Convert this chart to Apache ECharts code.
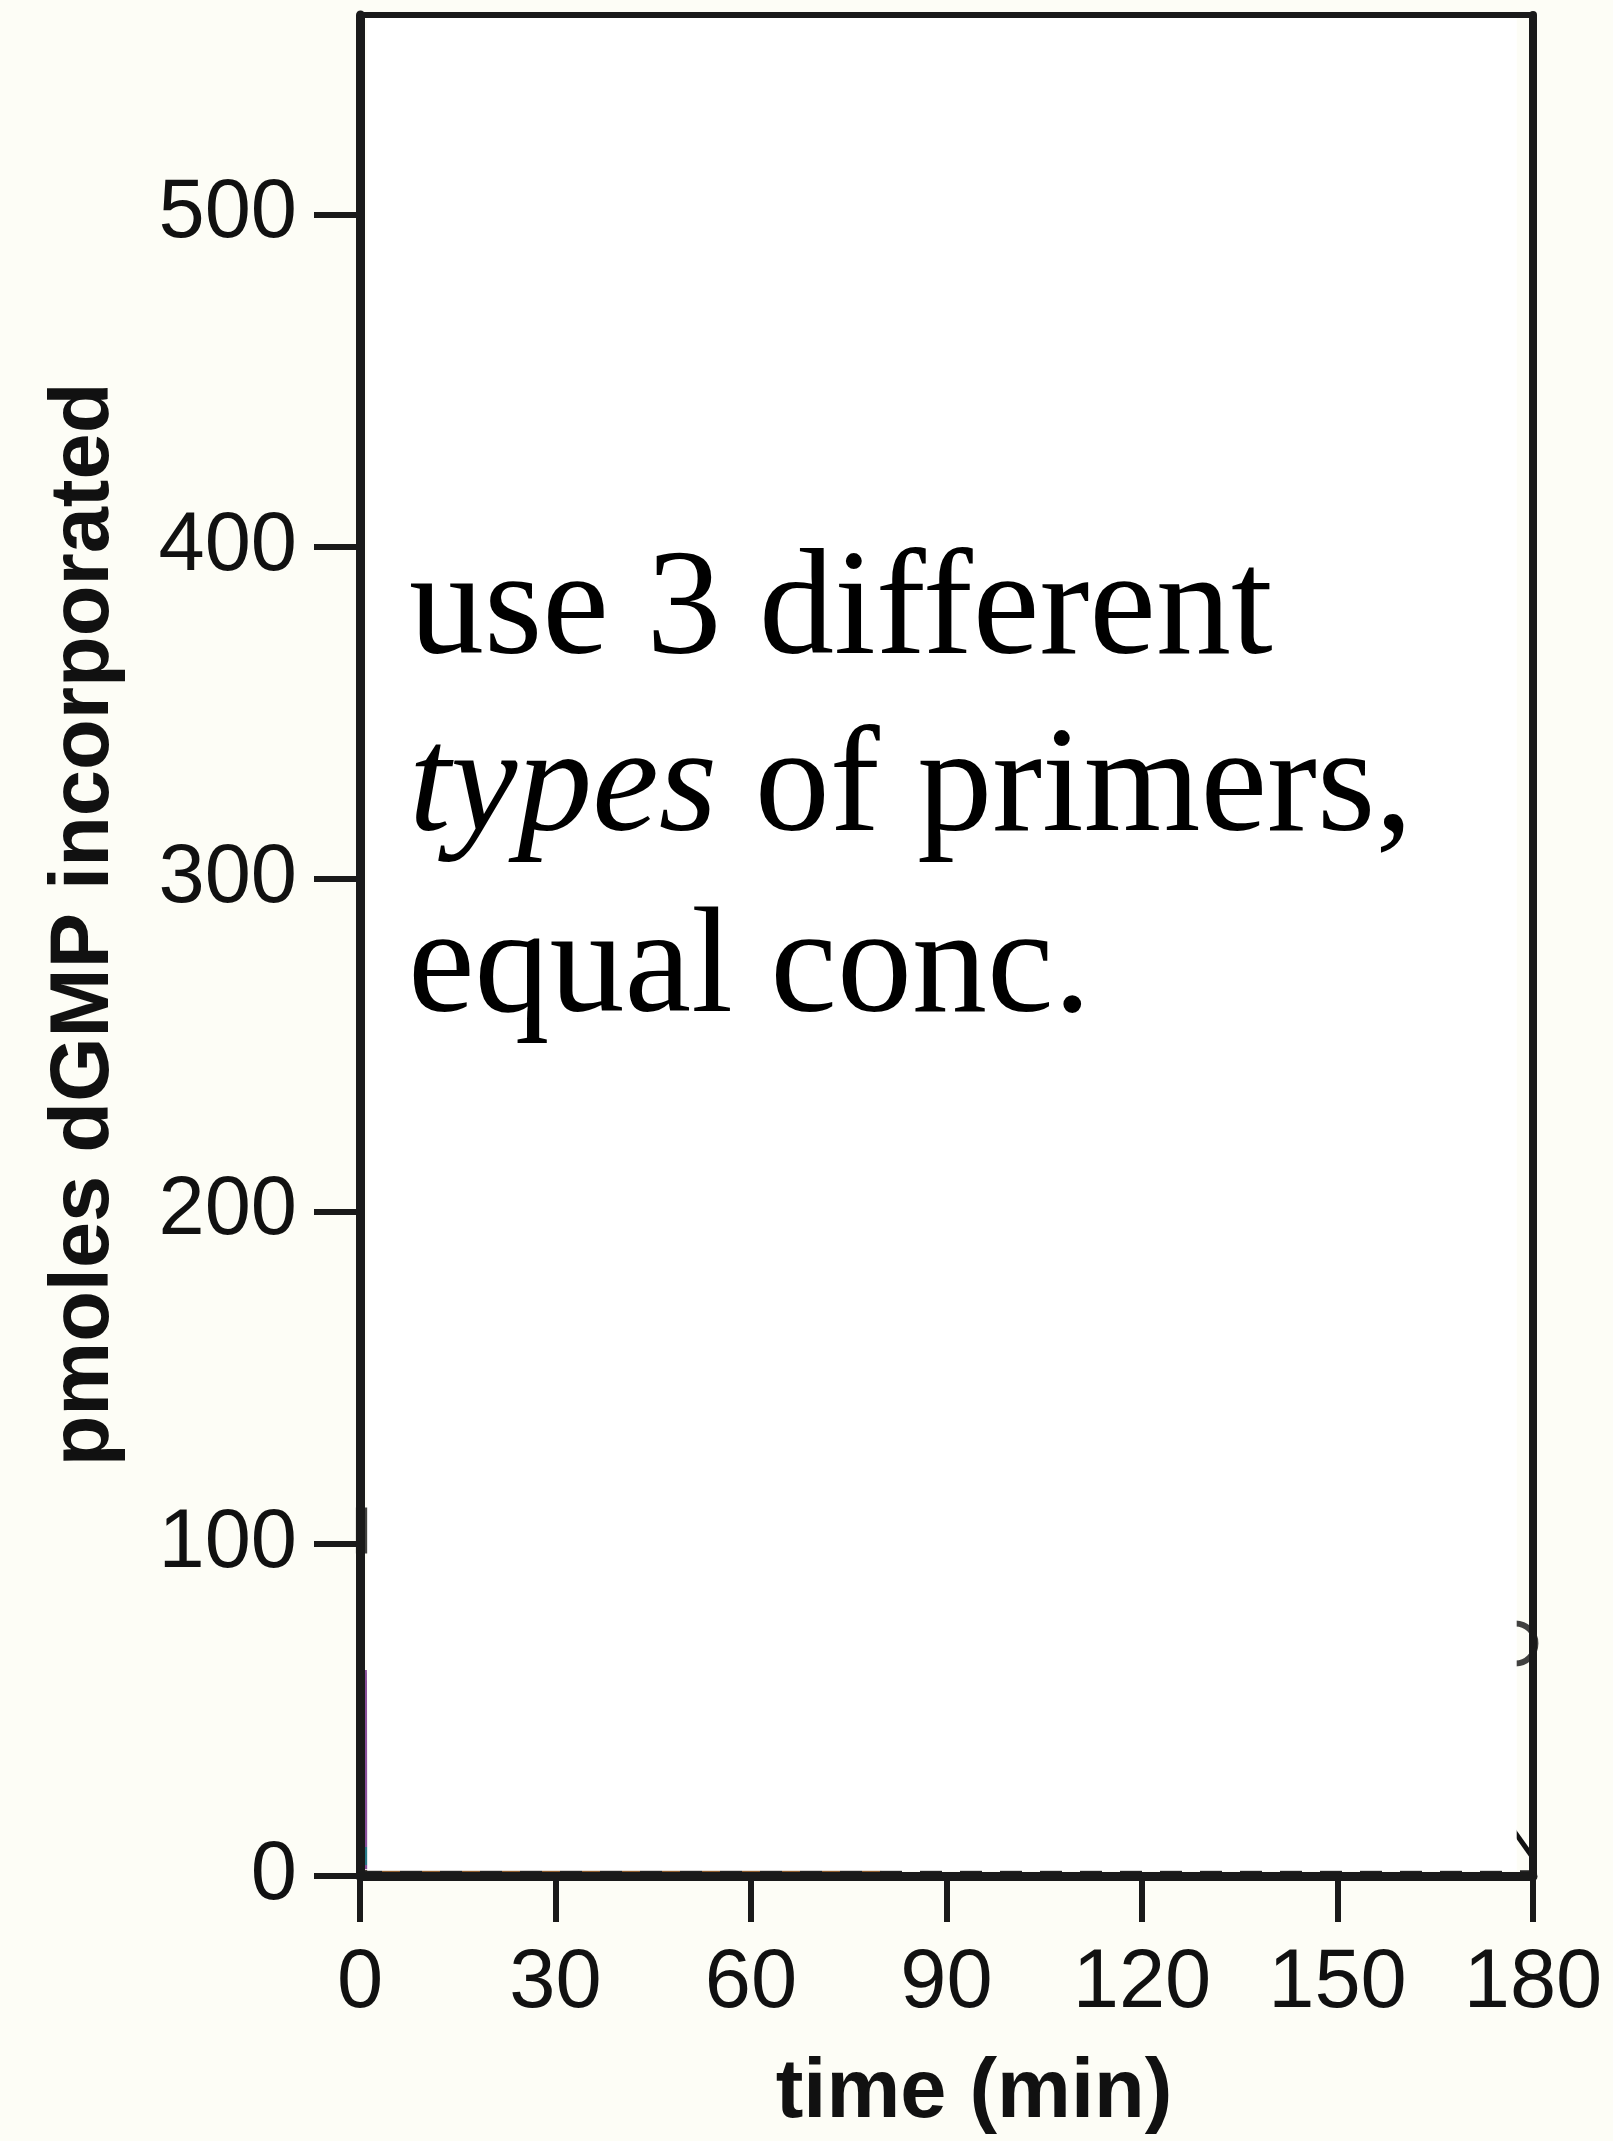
<!DOCTYPE html>
<html>
<head>
<meta charset="utf-8">
<style>
html,body{margin:0;padding:0;background:#fdfdf6;}
#chart{width:1613px;height:2141px;}
</style>
<script src="https://cdn.jsdelivr.net/npm/echarts@6/dist/echarts.min.js"></script>
</head>
<body>
<div id="chart"></div>
<script>
// ---- axis content ----
const xTickValues = [0, 30, 60, 90, 120, 150, 180];
const yTickValues = [0, 100, 200, 300, 400, 500];
const xAxisTitle = 'time (min)';
const yAxisTitle = 'pmoles dGMP incorporated';
// ---- overlay note (covers the plot) ----
const noteLine1 = 'use 3 different';
const noteLine2Italic = 'types';
const noteLine2Rest = ' of primers,';
const noteLine3 = 'equal conc.';
// ---- data remnants that peek out around the white cover ----
const purpleTime = [1.0, 0.75];
const purpleVals = [2, 62];
const tealPoint = [[0.9, 6]];
const blackFilledPoint = [[2.9, 104]];
const openCirclePoint = [[177.3, 70]];
const blackLineTime = [176, 180];
const blackLineVals = [16.5, 5.5];
const brownTime = [0, 80];
const brownVals = [1.3, 1.3];
const dashTime = [0, 180];
const dashVals = [1.3, 1.3];
// cover box in data space [x0, y0, x1, y1]
const coverBox = [[1.1, 1.6, 177.5, 560]];

const pairs = (xs, ys) => xs.map((x, i) => [x, ys[i]]);

const AX = '#1a1a1a';
const chart = echarts.init(document.getElementById('chart'), null, {renderer: 'canvas'});
const tickLabelStyle = {color: '#111', fontSize: 83, fontFamily: 'Liberation Sans, Arial, sans-serif', lineHeight: 83};
const nameStyle = {color: '#111', fontSize: 83, fontWeight: 'bold', fontFamily: 'Liberation Sans, Arial, sans-serif', lineHeight: 83};
const serif = 'Liberation Serif, Times New Roman, serif';

chart.setOption({
  backgroundColor: '#fdfdf6',
  animation: false,
  grid: {left: 360, right: 80, top: 15, bottom: 259, show: false},
  xAxis: [{
    type: 'value', min: 0, max: 180, interval: 30, z: 10,
    axisLine: {show: true, lineStyle: {color: AX, width: 9}},
    axisTick: {show: true, inside: false, length: 46, lineStyle: {color: AX, width: 6}, customValues: xTickValues},
    axisLabel: {margin: 67, ...tickLabelStyle, customValues: xTickValues},
    splitLine: {show: false},
    name: xAxisTitle, nameLocation: 'middle', nameGap: 177,
    nameTextStyle: {...nameStyle, padding: [0, 0, 0, 55]}
  }, {
    type: 'value', position: 'top', min: 0, max: 180, z: 10,
    axisLine: {show: true, onZero: false, lineStyle: {color: AX, width: 6}},
    axisTick: {show: false}, axisLabel: {show: false}, splitLine: {show: false}
  }],
  yAxis: [{
    type: 'value', min: 0, max: 560, interval: 100, z: 10,
    axisLine: {show: true, lineStyle: {color: AX, width: 9}},
    axisTick: {show: true, inside: false, length: 46, lineStyle: {color: AX, width: 6}, customValues: yTickValues},
    axisLabel: {margin: 63, ...tickLabelStyle, customValues: yTickValues},
    splitLine: {show: false},
    name: yAxisTitle, nameLocation: 'middle', nameGap: 233, nameRotate: 90,
    nameTextStyle: {...nameStyle, padding: [0, 0, 0, 42]}
  }, {
    type: 'value', position: 'right', min: 0, max: 560, z: 10,
    axisLine: {show: true, onZero: false, lineStyle: {color: AX, width: 8}},
    axisTick: {show: false}, axisLabel: {show: false}, splitLine: {show: false}
  }],
  series: [
    {type: 'line', z: 2, data: pairs(brownTime, brownVals), showSymbol: false, lineStyle: {color: '#8b5a2b', width: 3}},
    {type: 'line', z: 2, data: pairs(dashTime, dashVals), showSymbol: false, lineStyle: {color: '#222', width: 3, type: [22, 18]}},
    {type: 'line', z: 2, data: pairs(purpleTime, purpleVals), showSymbol: false, lineStyle: {color: '#8a4f9b', width: 4}},
    {type: 'line', z: 2, data: pairs(blackLineTime, blackLineVals), showSymbol: false, lineStyle: {color: '#111', width: 5}},
    {type: 'scatter', z: 2, data: tealPoint, symbol: 'rect', symbolSize: [16, 18], itemStyle: {color: '#0e8585'}},
    {type: 'scatter', z: 2, data: blackFilledPoint, symbol: 'rect', symbolSize: 46, itemStyle: {color: '#111'}},
    {type: 'scatter', z: 2, data: openCirclePoint, symbol: 'circle', symbolSize: 40,
      itemStyle: {color: 'rgba(0,0,0,0)', borderColor: '#111', borderWidth: 6}},
    {type: 'custom', z: 3, data: coverBox, clip: true,
      renderItem: function (params, api) {
        const p0 = api.coord([api.value(0), api.value(1)]);
        const p1 = api.coord([api.value(2), api.value(3)]);
        return {type: 'rect', shape: {x: p0[0], y: p1[1], width: p1[0] - p0[0], height: p0[1] - p1[1]},
          style: {fill: '#ffffff'}};
      }}
  ],
  graphic: [
    {type: 'text', left: 409, top: 539, z: 100,
      style: {text: noteLine1, fontSize: 150, fontFamily: serif, fill: '#000', lineHeight: 150}},
    {type: 'text', left: 409, top: 716, z: 100,
      style: {text: '{i|' + noteLine2Italic + '}{n|' + noteLine2Rest + '}', fontSize: 150, fontFamily: serif, fill: '#000', lineHeight: 150,
        rich: {
          i: {fontStyle: 'italic', fontSize: 150, fontFamily: serif, fill: '#000', lineHeight: 150},
          n: {fontSize: 150, fontFamily: serif, fill: '#000', lineHeight: 150}
        }}},
    {type: 'text', left: 408, top: 897, z: 100,
      style: {text: noteLine3, fontSize: 150, fontFamily: serif, fill: '#000', lineHeight: 150}}
  ]
});
</script>
</body>
</html>
